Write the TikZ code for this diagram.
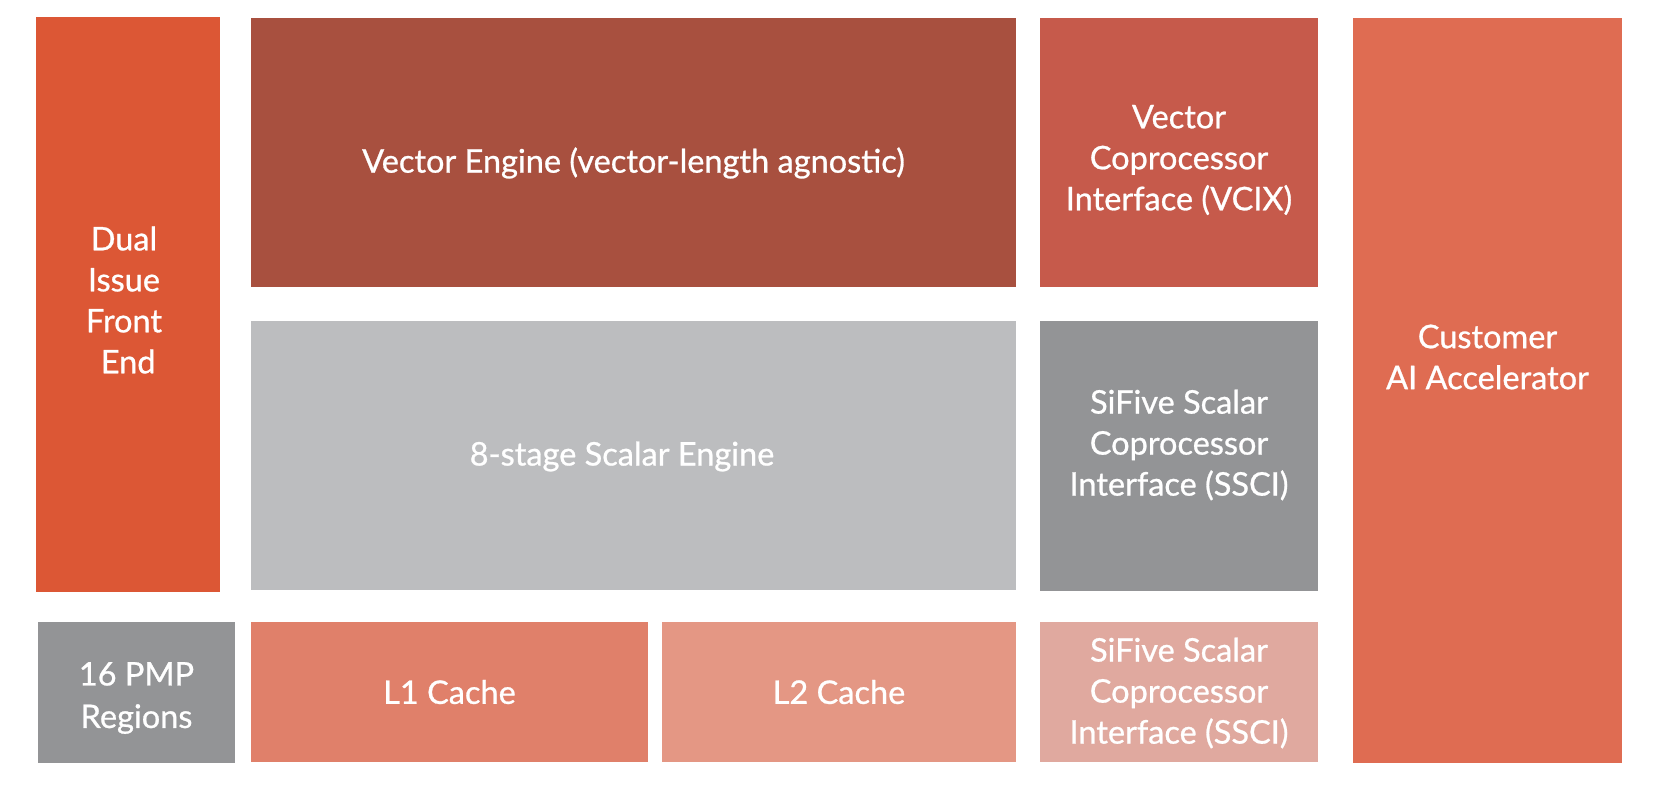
\documentclass[tikz,border=0pt]{standalone}
\usepackage{fontspec}
\setmainfont{Lato}[FakeBold=0.8]
\definecolor{cDual}{HTML}{DC5735}
\definecolor{cVec}{HTML}{A8503F}
\definecolor{cVcix}{HTML}{C65A4B}
\definecolor{cCust}{HTML}{DF6C52}
\definecolor{cScal}{HTML}{BCBDBF}
\definecolor{cGray}{HTML}{939496}
\definecolor{cLone}{HTML}{E0806A}
\definecolor{cLtwo}{HTML}{E49784}
\definecolor{cPink}{HTML}{E0A99F}
\tikzset{
  blk/.style={draw=none, inner sep=0pt, outer sep=0pt, rectangle},
  lbl/.style={text=white, align=center, inner sep=0pt, font=\fontsize{32.5}{41}\selectfont},
}
\begin{document}
\begin{tikzpicture}[x=1pt,y=-1pt]
\useasboundingbox (0,0) rectangle (1664,808);
\fill[white] (0,0) rectangle (1664,808);
% boxes
\node[blk, fill=cDual, minimum width=184, minimum height=575] (dual) at (128,304.5) {};
\node[blk, fill=cVec, minimum width=765, minimum height=269] (vec) at (633.5,152.5) {};
\node[blk, fill=cVcix, minimum width=278, minimum height=269] (vcix) at (1179,152.5) {};
\node[blk, fill=cCust, minimum width=269, minimum height=745] (cust) at (1487.5,390.5) {};
\node[blk, fill=cScal, minimum width=765, minimum height=269] (scal) at (633.5,455.5) {};
\node[blk, fill=cGray, minimum width=278, minimum height=270] (sscia) at (1179,456) {};
\node[blk, fill=cGray, minimum width=197, minimum height=141] (pmp) at (136.5,692.5) {};
\node[blk, fill=cLone, minimum width=397, minimum height=140] (lone) at (449.5,692) {};
\node[blk, fill=cLtwo, minimum width=354, minimum height=140] (ltwo) at (839,692) {};
\node[blk, fill=cPink, minimum width=278, minimum height=140] (sscib) at (1179,692) {};
% labels
\node[lbl] (tdual) at (124,300) {Dual\\Issue\\Front\\\ End};
\node[lbl] (tvec) at (633.5,163) {Vector Engine (vector-length agnostic)};
\node[lbl] (tvcix) at (1179,160) {Vector\\Coprocessor\\Interface (VCIX)};
\node[lbl] (tcust) at (1487.5,357) {Customer\\AI Accelerator};
\node[lbl] (tscal) at (622,456.5) {8-stage Scalar Engine};
\node[lbl] (tsscia) at (1179,445) {SiFive Scalar\\Coprocessor\\Interface (SSCI)};
\node[lbl, font=\fontsize{32.5}{42.5}\selectfont] (tpmp) at (136.5,698) {16 PMP\\Regions};
\node[lbl] (tlone) at (lone.center) {L1 Cache};
\node[lbl] (tltwo) at (ltwo.center) {L2 Cache};
\node[lbl] (tsscib) at (1179,693) {SiFive Scalar\\Coprocessor\\Interface (SSCI)};
\end{tikzpicture}
\end{document}
